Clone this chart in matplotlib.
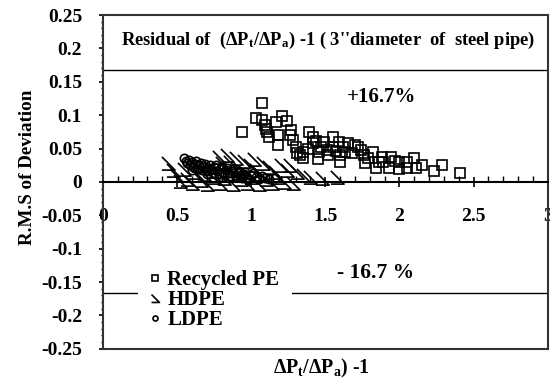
import matplotlib.pyplot as plt
from matplotlib.path import Path
from matplotlib.ticker import MultipleLocator

plt.rcParams['font.family'] = 'Liberation Serif'
plt.rcParams['font.weight'] = 'bold'
plt.rcParams['mathtext.fontset'] = 'custom'
plt.rcParams['mathtext.rm'] = 'Liberation Serif:bold'
plt.rcParams['mathtext.it'] = 'Liberation Serif:bold'
plt.rcParams['mathtext.bf'] = 'Liberation Serif:bold'

# Recycled PE
rpe_x = [1.07, 0.94, 1.03, 1.09, 1.11, 1.12, 1.07, 1.10, 1.17, 1.21, 1.24, 1.18, 1.18,
         1.26, 1.28, 1.27, 1.30, 1.31, 1.35, 1.35, 1.39, 1.42, 1.42, 1.44, 1.47, 1.51,
         1.49, 1.55, 1.55, 1.57, 1.59, 1.60, 1.60, 1.62, 1.65, 1.68, 1.70, 1.72, 1.74,
         1.76, 1.77, 1.79, 1.82, 1.84, 1.86, 1.88, 1.89, 1.93, 1.94, 1.97, 2.00, 2.00,
         2.05, 2.05, 2.10, 2.11, 2.15, 2.23, 2.29, 2.41, 1.33, 1.45, 1.38, 1.52, 1.46, 1.63]
rpe_y = [0.118, 0.075, 0.096, 0.085, 0.075, 0.068, 0.092, 0.080, 0.090, 0.099, 0.091, 0.070, 0.055,
         0.070, 0.063, 0.078, 0.052, 0.043, 0.045, 0.036, 0.075, 0.068, 0.058, 0.062, 0.052, 0.048,
         0.060, 0.068, 0.052, 0.046, 0.060, 0.040, 0.030, 0.052, 0.058, 0.043, 0.055, 0.052, 0.048,
         0.040, 0.028, 0.036, 0.045, 0.021, 0.030, 0.038, 0.030, 0.021, 0.038, 0.032, 0.030, 0.019,
         0.030, 0.021, 0.036, 0.021, 0.025, 0.017, 0.025, 0.014, 0.040, 0.035, 0.050, 0.040, 0.045, 0.045]

# HDPE
hdpe_x = [0.44, 0.47, 0.49, 0.52, 0.55, 0.57, 0.60, 0.62, 0.64, 0.66, 0.68, 0.70, 0.72,
          0.74, 0.76, 0.78, 0.79, 0.80, 0.82, 0.84, 0.85, 0.86, 0.88, 0.89, 0.90, 0.91,
          0.93, 0.95, 0.96, 0.97, 0.99, 1.00, 1.02, 1.03, 1.05, 1.06, 1.08, 1.10, 1.12,
          1.14, 1.16, 1.18, 1.20, 1.22, 1.24, 1.26, 1.28, 1.31, 1.35, 1.40, 1.48, 1.58]
hdpe_y = [0.028, 0.018, 0.010, 0.002, 0.020, 0.005, -0.002, 0.015, 0.026, 0.003, 0.012, -0.003, 0.022,
          0.008, 0.016, 0.038, -0.002, 0.028, 0.006, 0.040, 0.018, 0.030, -0.003, 0.012, 0.036, 0.022,
          0.004, 0.032, 0.015, -0.002, 0.026, 0.008, 0.035, 0.018, -0.003, 0.012, 0.028, 0.004, 0.022,
          -0.002, 0.015, 0.008, 0.025, 0.000, 0.018, 0.025, -0.002, 0.015, 0.010, 0.008, 0.006, 0.008]

# LDPE
ldpe_x = [0.55, 0.56, 0.57, 0.58, 0.59, 0.60, 0.61, 0.62, 0.63, 0.64, 0.65, 0.66, 0.67, 0.68,
          0.69, 0.70, 0.71, 0.72, 0.73, 0.74, 0.75, 0.76, 0.77, 0.78, 0.79, 0.80, 0.81, 0.82,
          0.83, 0.84, 0.85, 0.86, 0.87, 0.88, 0.89, 0.90, 0.91, 0.92, 0.93, 0.94, 0.95, 0.96,
          0.97, 0.98, 1.00, 1.01, 1.03, 1.05, 1.07, 1.09, 1.12, 1.16, 0.60, 0.70, 0.80]
ldpe_y = [0.036, 0.032, 0.028, 0.033, 0.025, 0.030, 0.022, 0.027, 0.031, 0.020, 0.025, 0.028, 0.018, 0.023,
          0.027, 0.016, 0.021, 0.025, 0.019, 0.014, 0.022, 0.026, 0.017, 0.012, 0.020, 0.023, 0.015, 0.011,
          0.018, 0.021, 0.013, 0.009, 0.016, 0.019, 0.011, 0.008, 0.014, 0.017, 0.010, 0.006, 0.012, 0.015,
          0.008, 0.005, 0.010, 0.013, 0.007, 0.004, 0.009, 0.006, 0.004, 0.006, 0.018, 0.012, 0.008]

limite = 0.167

# marker for HDPE: diagonal stroke with a foot
pie = Path([(-0.5, 0.5), (0.5, -0.5), (-0.5, -0.5)],
           [Path.MOVETO, Path.LINETO, Path.LINETO])

fig = plt.figure(figsize=(5.5, 3.85), dpi=100)
ax = fig.add_axes([0.187, 0.094, 0.809, 0.867])

ax.plot(rpe_x, rpe_y, linestyle='none', marker='s', ms=7.5, mfc='none', mec='black',
        mew=1.2, label='Recycled PE', zorder=3)
ax.plot(hdpe_x, hdpe_y, linestyle='none', marker=pie, ms=9.5, mfc='none', mec='black',
        mew=1.2, label='HDPE', zorder=3)
ax.plot(ldpe_x, ldpe_y, linestyle='none', marker='o', ms=6, mfc='none', mec='black',
        mew=1.2, label='LDPE', zorder=3)

ax.axhline(limite, color='black', lw=1.0)
ax.axhline(-limite, color='black', lw=1.0)
ax.axhline(-0.25, color='#333333', lw=1.5, clip_on=False)

ax.set_xlim(0, 3)
ax.set_ylim(-0.25, 0.25)

for lado in ['left', 'right', 'top']:
    ax.spines[lado].set_linewidth(1.5)
    ax.spines[lado].set_color('#333333')
ax.spines['bottom'].set_position(('data', 0))
ax.spines['bottom'].set_linewidth(1.5)

ax.xaxis.set_minor_locator(MultipleLocator(0.1))
ax.yaxis.set_minor_locator(MultipleLocator(0.01))
ax.set_xticks([0, 0.5, 1, 1.5, 2, 2.5, 3])
ax.set_xticklabels(['0', '0.5', '1', '1.5', '2', '2.5', '3'], fontweight='bold')
ax.set_yticks([0.25, 0.2, 0.15, 0.1, 0.05, 0, -0.05, -0.1, -0.15, -0.2, -0.25])
ax.set_yticklabels(['0.25', '0.2', '0.15', '0.1', '0.05', '0', '-0.05', '-0.1',
                    '-0.15', '-0.2', '-0.25'], fontweight='bold')
ax.tick_params(axis='x', which='major', direction='inout', length=7, width=1.2,
               labelsize=14, pad=15)
ax.tick_params(axis='x', which='minor', direction='in', length=4, width=1)
ax.tick_params(axis='y', which='major', direction='out', length=3, width=1.2,
               labelsize=14, pad=12)
ax.tick_params(axis='y', which='minor', direction='out', length=1.5, width=1)

ax.set_ylabel('R.M.S of Deviation', fontsize=13.7, fontweight='bold', labelpad=4, y=0.545)
fig.text(0.584, 0.044, 'ΔP$_\\mathrm{t}$/ΔP$_\\mathrm{a}$) -1', fontsize=14.3,
         fontweight='bold', ha='center', va='center')

ax.text(1.52, 0.2126, "Residual of  (ΔP$_\\mathrm{t}$/ΔP$_\\mathrm{a}$) -1 ( 3''diameter  of  steel pipe)",
        fontsize=13.3, fontweight='bold', ha='center', va='center')
ax.text(1.88, 0.127, '+16.7%', fontsize=15, fontweight='bold', ha='center', va='center')
ax.text(1.84, -0.136, '- 16.7 %', fontsize=15.5, fontweight='bold', ha='center', va='center')

leg = ax.legend(loc='lower left', bbox_to_anchor=(0.056, -0.012),
                prop={'family': 'Liberation Serif', 'weight': 'bold', 'size': 15},
                frameon=True, facecolor='white', edgecolor='none', framealpha=1,
                markerscale=0.6, handlelength=0.4, handletextpad=0.4,
                labelspacing=0.0, borderpad=0.6, fancybox=False)
leg.set_zorder(5)

fig.savefig('out.png', dpi=100)
